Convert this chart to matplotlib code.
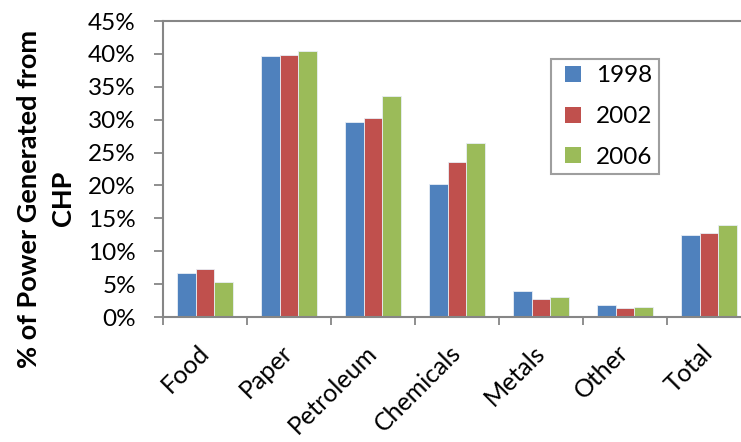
import numpy as np
import matplotlib
matplotlib.use("Agg")
import matplotlib.pyplot as plt
from matplotlib.lines import Line2D
from matplotlib.ticker import FixedLocator, PercentFormatter

plt.rcParams['font.family'] = ['Lato', 'DejaVu Sans']

categories = ["Food", "Paper", "Petroleum", "Chemicals", "Metals", "Other", "Total"]
years = ["1998", "2002", "2006"]
share_1998 = [6.7, 39.7, 29.7, 20.2, 3.95, 1.9, 12.4]
share_2002 = [7.25, 39.9, 30.3, 23.5, 2.7, 1.3, 12.8]
share_2006 = [5.3, 40.4, 33.6, 26.5, 3.0, 1.5, 14.0]
colors = ["#4F81BD", "#C0504D", "#9BBB59"]
axis_gray = "#868686"

fig = plt.figure(figsize=(7.41, 4.42), dpi=100)
ax = fig.add_axes([163/741, 1 - 317/442, 588/741, 296/442])

x = np.arange(len(categories))
w = 0.222
for i, (vals, c, lab) in enumerate(zip([share_1998, share_2002, share_2006], colors, years)):
    ax.bar(x + (i - 1) * w, vals, width=w, color=c, edgecolor="#E8EEF6", linewidth=0.6, label=lab)

ax.set_xlim(-0.5, len(categories) - 0.5)
ax.set_ylim(0, 45)
ax.set_yticks(np.arange(0, 46, 5))
ax.yaxis.set_major_formatter(PercentFormatter(decimals=0))

ax.set_xticks(x)
ax.set_xticklabels(categories, rotation=45, ha="right", va="center", rotation_mode="anchor")
ax.xaxis.set_minor_locator(FixedLocator(np.arange(-0.5, len(categories), 1)))
ax.tick_params(axis="x", which="major", length=0, pad=23, labelsize=18)
ax.tick_params(axis="x", which="minor", length=6, width=1.3, color=axis_gray, direction="out")
ax.tick_params(axis="y", length=6.5, width=1.3, color=axis_gray, labelsize=17.5, pad=13)

for side in ["left", "bottom", "top"]:
    ax.spines[side].set_color(axis_gray)
    ax.spines[side].set_linewidth(1.5)
ax.spines["right"].set_visible(False)

ax.set_ylabel("% of Power Generated from\nCHP", fontsize=19.5, fontweight="bold",
              linespacing=1.5)
ax.yaxis.set_label_coords(-0.150, 0.40)

handles = [Line2D([], [], linestyle="", marker="s", markersize=11.5, color=c,
                  markeredgewidth=0) for c in colors]
leg = ax.legend(handles, years, loc="upper left", bbox_to_anchor=((551 - 163) / 588, 1 - (59 - 21) / 296),
                borderaxespad=0, fontsize=17.5, frameon=True, fancybox=False,
                edgecolor=axis_gray, handlelength=1.3, handletextpad=0.3,
                labelspacing=0.82, borderpad=0.25)
leg.get_frame().set_linewidth(1.5)

fig.savefig("out.png", dpi=100)
